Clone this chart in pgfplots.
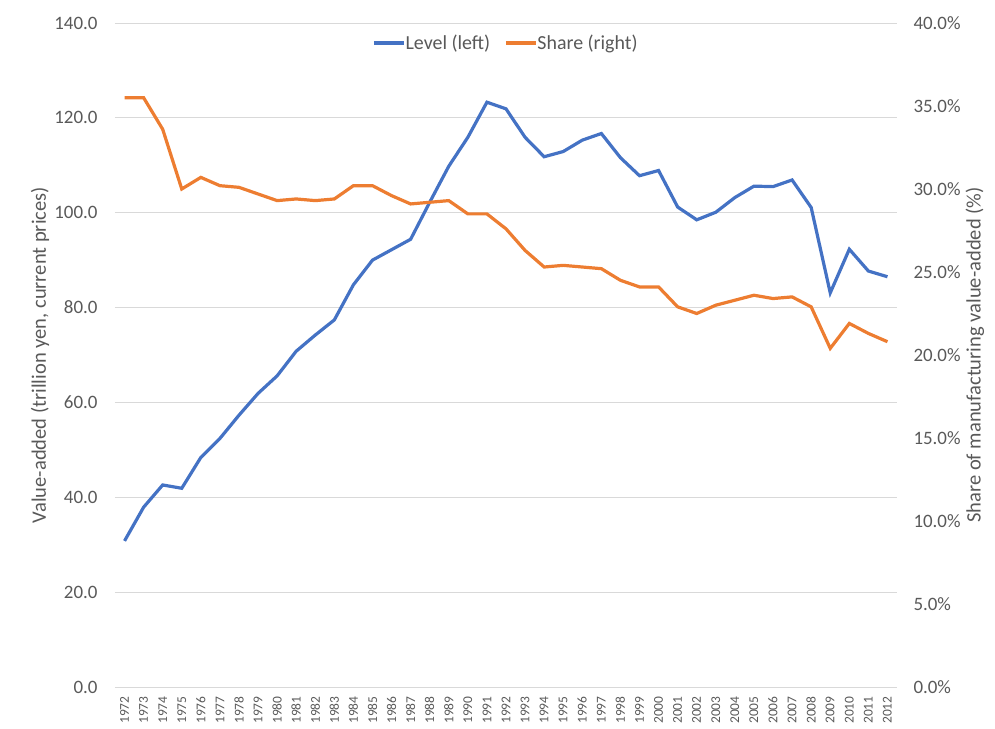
\documentclass[border=0pt]{standalone}
\usepackage{pgfplots}
\pgfplotsset{compat=1.18}
\usepackage{fontspec}
\setmainfont{Carlito}
\definecolor{lblue}{HTML}{4472C4}
\definecolor{lorange}{HTML}{ED7D31}
\definecolor{txtgray}{HTML}{595959}
\definecolor{gridgray}{HTML}{D9D9D9}
\begin{document}
\begin{tikzpicture}
\useasboundingbox (-115bp,-42bp) rectangle (880bp,687bp);
\pgfplotsset{
  every axis/.style={
    scale only axis, width=782bp, height=664bp,
    xmin=1971.5, xmax=2012.5,
    /pgf/number format/assume math mode=true,
    tick style={draw=none},
    ticklabel style={text=txtgray},
    label style={text=txtgray, font=\fontsize{20.6}{24}\selectfont},
  }
}
\begin{axis}[
  at={(0,0)}, anchor=south west,
  ymin=0, ymax=140, ytick={0,20,...,140},
  axis line style={draw=none},
  ymajorgrids, grid style={gridgray, line width=0.9bp},
  xtick={1972,...,2012},
  xticklabel={\pgfmathprintnumber[1000 sep={}]{\tick}},
  x tick label style={rotate=90, anchor=east, font=\fontsize{13.5}{14}\selectfont, yshift=0bp, xshift=-6bp},
  yticklabel={\pgfmathprintnumber[fixed,fixed zerofill,precision=1]{\tick}},
  y tick label style={font=\fontsize{19}{22}\selectfont, xshift=-14bp},
  ylabel={Value-added (trillion yen, current prices)},
  ylabel style={at={(axis description cs:-0.0959,0.5)}, anchor=center},
]
\draw[gridgray, line width=0.9bp] (axis cs:1971.5,0) -- (axis cs:2012.5,0);
\addplot[lblue, line width=3.2bp] coordinates {
(1972,30.8)(1973,37.9)(1974,42.6)(1975,41.9)(1976,48.4)(1977,52.4)(1978,57.3)(1979,61.9)
(1980,65.6)(1981,70.8)(1982,74.2)(1983,77.4)(1984,84.8)(1985,90.0)(1986,92.2)(1987,94.4)
(1988,102.2)(1989,109.8)(1990,115.9)(1991,123.3)(1992,121.9)(1993,115.9)(1994,111.8)(1995,112.9)
(1996,115.3)(1997,116.7)(1998,111.6)(1999,107.8)(2000,108.9)(2001,101.2)(2002,98.5)(2003,100.1)
(2004,103.2)(2005,105.6)(2006,105.5)(2007,106.9)(2008,101.1)(2009,83.1)(2010,92.3)(2011,87.7)(2012,86.5)};
\end{axis}
\begin{axis}[
  at={(0,0)}, anchor=south west,
  ymin=0, ymax=40, ytick={0,5,...,40},
  axis x line=none,
  axis y line*=right, axis line style={draw=none},
  yticklabel={\pgfmathprintnumber[fixed,fixed zerofill,precision=1]{\tick}\%},
  y tick label style={font=\fontsize{19}{22}\selectfont, xshift=13bp},
  ylabel={Share of manufacturing value-added (\%)},
  ylabel style={at={(axis description cs:1.0997,0.5)}, anchor=center},
  legend style={at={(axis description cs:0.5,0.97)}, anchor=center, draw=none, fill=none,
    legend columns=2, font=\fontsize{20}{23}\selectfont, text=txtgray,
    /tikz/every even column/.append style={column sep=12bp},
    /tikz/every odd column/.append style={column sep=-2bp}},
  legend image code/.code={\draw[#1, line width=3.2bp] (0bp,0bp) -- (30bp,0bp);},
]
\addlegendimage{lblue}
\addlegendentry{Level (left)}
\addplot[lorange, line width=3.2bp] coordinates {
(1972,35.5)(1973,35.5)(1974,33.6)(1975,30.0)(1976,30.7)(1977,30.2)(1978,30.1)(1979,29.7)
(1980,29.3)(1981,29.4)(1982,29.3)(1983,29.4)(1984,30.2)(1985,30.2)(1986,29.6)(1987,29.1)
(1988,29.2)(1989,29.3)(1990,28.5)(1991,28.5)(1992,27.6)(1993,26.3)(1994,25.3)(1995,25.4)
(1996,25.3)(1997,25.2)(1998,24.5)(1999,24.1)(2000,24.1)(2001,22.9)(2002,22.5)(2003,23.0)
(2004,23.3)(2005,23.6)(2006,23.4)(2007,23.5)(2008,22.9)(2009,20.4)(2010,21.9)(2011,21.3)(2012,20.8)};
\addlegendentry{Share (right)}
\end{axis}
\end{tikzpicture}
\end{document}
